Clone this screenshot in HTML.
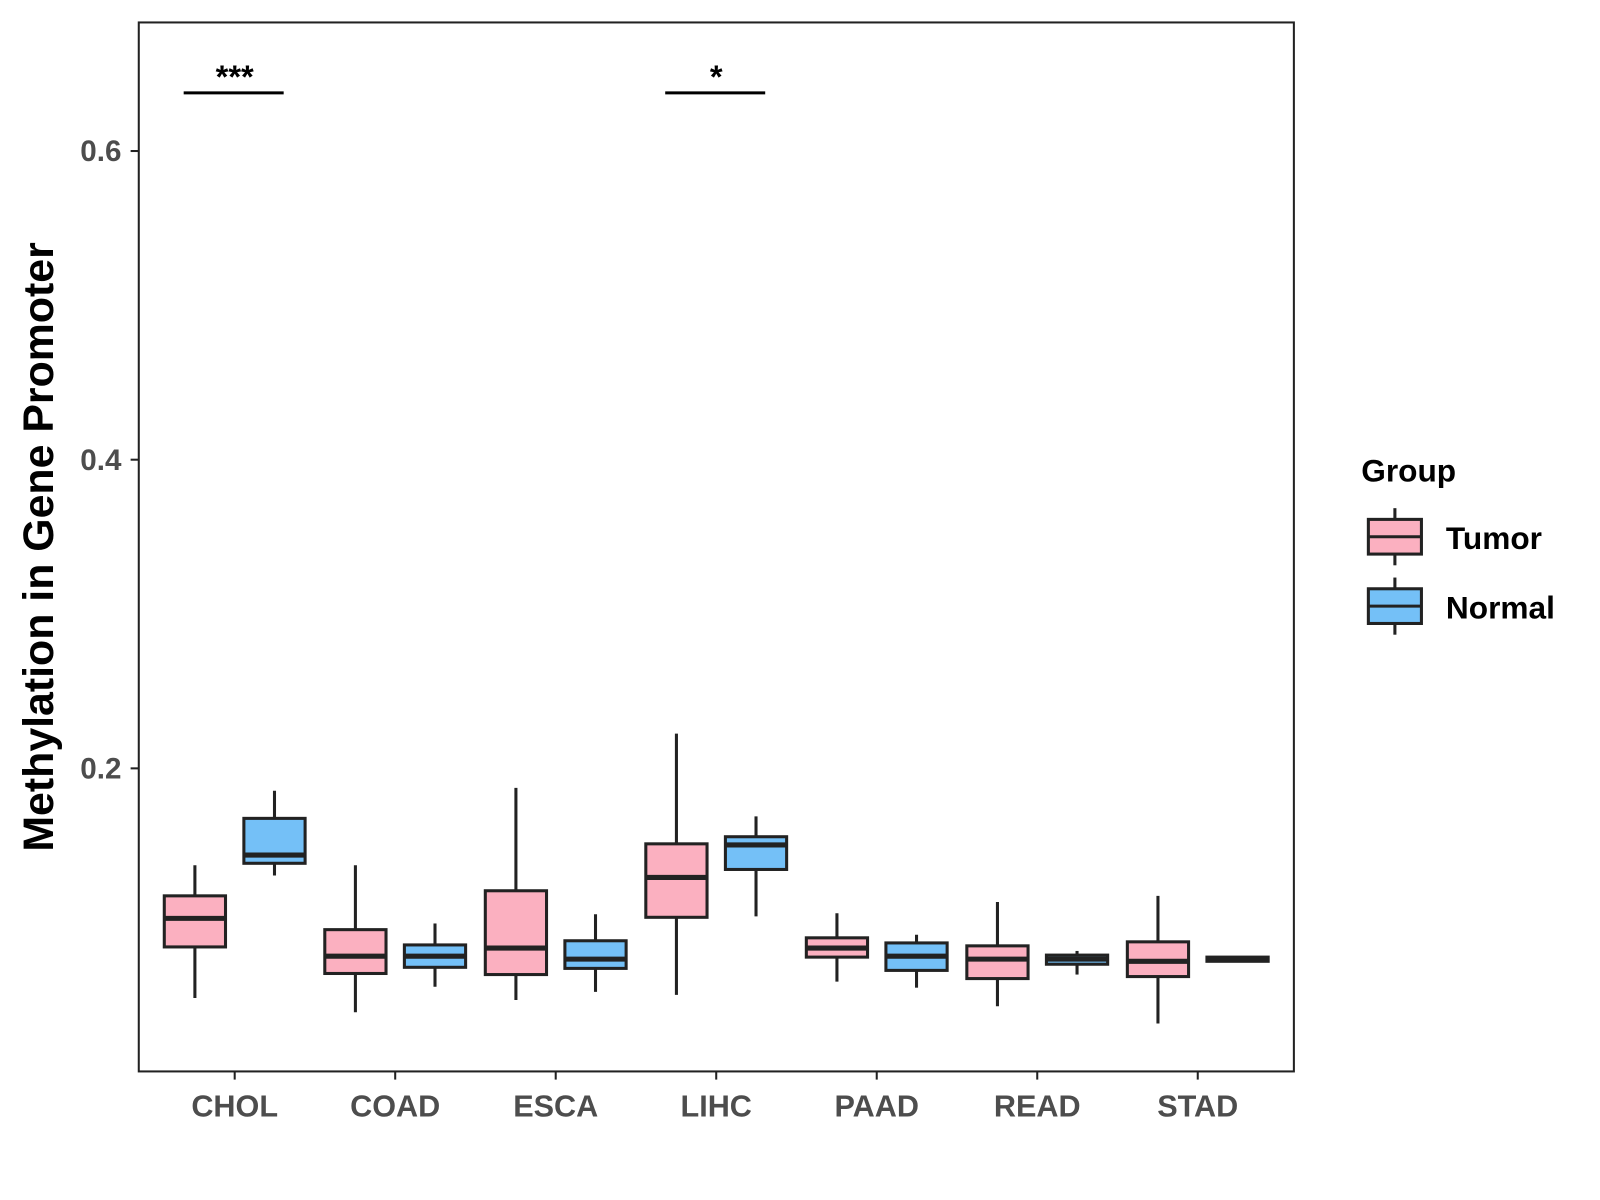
<!DOCTYPE html>
<html><head><meta charset="utf-8"><style>body{margin:0;background:#fff}svg{display:block;font-family:"Liberation Sans",Arial,sans-serif}</style></head>
<body>
<svg id="chart" width="1600" height="1200" viewBox="0 0 1568 1176">
<rect x="136" y="22" width="1132" height="1028" fill="#fff" stroke="#222" stroke-width="2"/>
<g id="marks"></g>
<g id="axes"></g>
<text transform="translate(52,536) rotate(-90)" text-anchor="middle" font-size="42" font-weight="bold" fill="#000">Methylation in Gene Promoter</text>
<g>
<text x="1334" y="472" font-size="31" font-weight="bold">Group</text>
<g>
<line x1="1367" y1="498" x2="1367" y2="554" stroke="#222" stroke-width="3"/>
<rect x="1341" y="509" width="52" height="34" fill="#FBB0C0" stroke="#222" stroke-width="3"/>
<line x1="1341" y1="526" x2="1393" y2="526" stroke="#222" stroke-width="3"/>
<text x="1417" y="538" font-size="31" font-weight="bold">Tumor</text></g>
<g>
<line x1="1367" y1="566" x2="1367" y2="622" stroke="#222" stroke-width="3"/>
<rect x="1341" y="577" width="52" height="34" fill="#74C0F7" stroke="#222" stroke-width="3"/>
<line x1="1341" y1="594" x2="1393" y2="594" stroke="#222" stroke-width="3"/>
<text x="1417" y="606" font-size="31" font-weight="bold">Normal</text></g>
</g>
</svg>
<script>
const categories=["CHOL","COAD","ESCA","LIHC","PAAD","READ","STAD"];
const tumorStats=[[0.0512,0.0843,0.1028,0.1174,0.1372],[0.0420,0.0671,0.0783,0.0955,0.1372],[0.0499,0.0664,0.0836,0.1207,0.1874],[0.0532,0.1035,0.1293,0.1511,0.2225],[0.0618,0.0777,0.0836,0.0902,0.1061],[0.0459,0.0638,0.0764,0.0850,0.1134],[0.0347,0.0651,0.0750,0.0876,0.1174]];
const normalStats=[[0.1306,0.1385,0.1438,0.1676,0.1855],[0.0585,0.0711,0.0783,0.0856,0.0995],[0.0552,0.0704,0.0764,0.0883,0.1055],[0.1041,0.1345,0.1504,0.1557,0.1689],[0.0579,0.0691,0.0783,0.0869,0.0922],[0.0664,0.0731,0.0764,0.0790,0.0817],[0.0744,0.0750,0.0764,0.0777,0.0783]];
const yTicks=[0.2,0.4,0.6];
const sigLabels=[{cat:"CHOL",label:"***"},{cat:"LIHC",label:"*"}];
const NS="http://www.w3.org/2000/svg";
function y(v){return 753-(v-0.2)/0.2*302.5;}
function x(i){return 230+i*157.3;}
function mk(t,a,p){const e=document.createElementNS(NS,t);for(const k in a)e.setAttribute(k,a[k]);p.appendChild(e);return e;}
const marks=document.getElementById('marks'),axes=document.getElementById('axes');
function box(cx,s,fill,name){
  const g=mk('g',{},marks);
  
  
  mk('line',{x1:cx,x2:cx,y1:y(s[4]),y2:y(s[0]),stroke:'#222','stroke-width':3},g);
  mk('rect',{x:cx-30,y:y(s[3]),width:60,height:Math.max(1,y(s[1])-y(s[3])),fill:fill,stroke:'#222','stroke-width':3},g);
  mk('line',{x1:cx-30,x2:cx+30,y1:y(s[2]),y2:y(s[2]),stroke:'#222','stroke-width':5},g);
}
categories.forEach((c,i)=>{
  box(x(i)-39,tumorStats[i],'#FBB0C0','box-tumor-'+c.toLowerCase());
  box(x(i)+39,normalStats[i],'#74C0F7','box-normal-'+c.toLowerCase());
  mk('line',{x1:x(i),x2:x(i),y1:1050,y2:1058,stroke:'#222','stroke-width':2},axes);
  const t=mk('text',{x:x(i),y:1094,'text-anchor':'middle','font-size':30,'font-weight':'bold',fill:'#4d4d4d'},axes);
  t.textContent=c;
  
  
});
yTicks.forEach(v=>{
  mk('line',{x1:128,x2:136,y1:y(v),y2:y(v),stroke:'#222','stroke-width':2},axes);
  const t=mk('text',{x:119,y:y(v)+10,'text-anchor':'end','font-size':29,'font-weight':'bold',fill:'#4d4d4d'},axes);
  t.textContent=v.toFixed(1);
  
  
});
sigLabels.forEach(s=>{
  const i=categories.indexOf(s.cat);
  const g=mk('g',{},marks);
  
  
  mk('line',{x1:x(i)-50,x2:x(i)+48,y1:91,y2:91,stroke:'#000','stroke-width':3},g);
  const t=mk('text',{x:x(i),y:86,'text-anchor':'middle','font-size':32,'font-weight':'bold'},g);
  t.textContent=s.label;
});
</script>
</body></html>
